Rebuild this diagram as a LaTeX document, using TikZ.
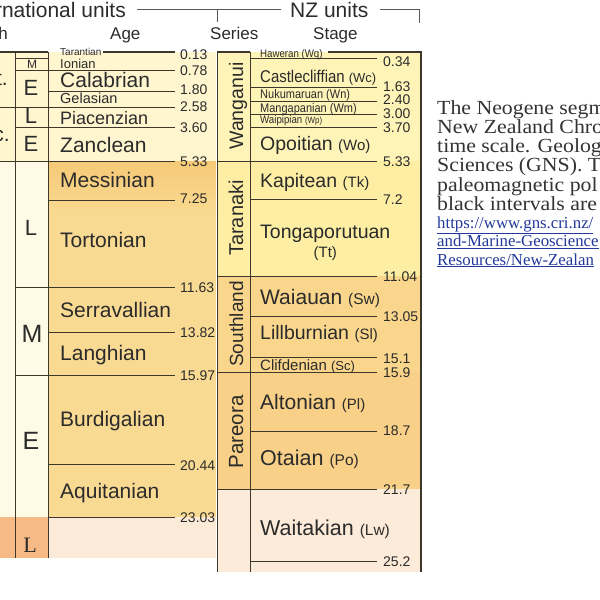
\documentclass[tikz,border=0pt]{standalone}
\usepackage{fontspec}
\setmainfont{Liberation Sans}
\newfontfamily\serifrm{Liberation Serif}
\newfontfamily\serifwide[FakeStretch=1.09]{Liberation Serif}
\newfontfamily\narrowsf[FakeStretch=0.88]{Liberation Sans}
\usetikzlibrary{positioning}
\definecolor{gpale}{HTML}{FFF6D0}
\definecolor{gcream}{HTML}{FFFAE6}
\definecolor{gmio}{HTML}{F9DA92}
\definecolor{gmiotop}{HTML}{F6C977}
\definecolor{golig}{HTML}{FCEAD8}
\definecolor{goligd}{HTML}{F6BA87}
\definecolor{gwang}{HTML}{FFF4B8}
\definecolor{gtara}{HTML}{FDEEA4}
\definecolor{gsouth}{HTML}{F9D68C}
\definecolor{gpare}{HTML}{F8D087}
\definecolor{gland}{HTML}{FCEBD9}
\definecolor{gline}{HTML}{3E372C}
\definecolor{gtext}{HTML}{2B2B2B}
\definecolor{glinkc}{HTML}{23399B}
\newcommand{\gsize}[1]{\fontsize{#1}{#1}\selectfont}
\tikzset{
  gbnd/.style={gline, line width=0.8pt},
  gtop/.style={gline, line width=2.4pt},
  gedge/.style={gline, line width=1.8pt},
  gbrack/.style={black!65, line width=0.8pt},
  gtxt/.style={inner sep=0pt, text=gtext},
  ghead/.style={gtxt, anchor=base west, font=\gsize{17}},
  gnum/.style={gtxt, anchor=west, font=\gsize{14}},
  gage/.style={gtxt, anchor=base west},
  gsub/.style={gtxt, font=\gsize{22}},
  gser/.style={gtxt, anchor=base, rotate=90, font=\gsize{20}},
  gnote/.style={inner sep=0pt, anchor=base west, text=black!80, font=\serifwide\gsize{20}},
  glink/.style={inner sep=0pt, anchor=base west, text=glinkc, font=\serifrm\gsize{16.8}},
}

\begin{document}
\begin{tikzpicture}[x=1pt,y=-1pt]
  \useasboundingbox (0,0) rectangle (600,600);
  \clip (0,0) rectangle (600,600);

  % fills, international side
  \fill[gpale] (0,52) rectangle (216,161);
  \fill[gcream] (0,161) rectangle (48,517);
  \fill[gmio] (48,161) rectangle (216,517);
  \shade[top color=gmiotop, bottom color=gmio] (48,161) rectangle (216,215);
  \fill[goligd] (0,517) rectangle (48,558);
  \fill[golig] (48,517) rectangle (216,558);

  % fills, NZ side
  \foreach \a/\b/\c in {52/161/gwang, 161/276/gtara, 276/372/gsouth,
                        372/489/gpare, 489/572/gland}
    \fill[\c] (217,\a) rectangle (421,\b);

  % header
  \node[gtxt, anchor=base east, font=\gsize{21}] (intl) at (126,17) {rnational units};
  \node[gtxt, anchor=base west, font=\gsize{21}] (nzu) at (290,17) {NZ units};
  \draw[gbrack] ([xshift=11pt]intl.east) -- ([xshift=-9pt]nzu.west);
  \draw[gbrack] (217,10) -- (217,22);
  \draw[gbrack] ([xshift=11pt]nzu.east) -| (419,23);
  \node[ghead, anchor=base east] (hep) at (8,39) {h};
  \node[ghead] (hage) at (110,39) {Age};
  \node[ghead] (hser) at (210,39) {Series};
  \node[ghead] (hstg) at (313,39) {Stage};

  % international boundaries
  \draw[gtop] (0,52) -- (48,52) (103,52) -- (175,52);
  \draw[gbnd] (15,58) -- (48,58);
  \foreach \y/\x in {70/15, 91/48, 107/0, 127/15, 161/0, 200/48,
                     287/15, 332/48, 375/15, 464/48, 517/48}
    \draw[gbnd] (\x,\y) -- (175,\y);
  \draw[gbnd] (15,52) -- (15,558) (48,52) -- (48,558);

  % international ages
  \foreach \y/\t [count=\i] in {55/0.13, 71/0.78, 90/1.80, 107/2.58, 128/3.60,
                                162/5.33, 199/7.25, 288/11.63, 333/13.82,
                                376/15.97, 466/20.44, 518/23.03}
    \node[gnum] (ia\i) at (180,\y) {\t};

  % international stages
  \foreach \y/\s/\t [count=\i] in {55/10/Tarantian, 68/13/Ionian, 87/21/Calabrian,
                                   103/14.5/Gelasian, 124/18/Piacenzian, 152/21/Zanclean,
                                   187/21/Messinian, 247/21/Tortonian, 317/21/Serravallian,
                                   360/21/Langhian, 426/21/Burdigalian, 498/21/Aquitanian}
    \node[gage, font=\gsize{\s}] (st\i) at (60,\y) {\t};

  % sub-epochs and cut epoch names
  \foreach \p/\s/\t [count=\i] in {{32,64.5}/12/M, {31,88}/22/E, {31,116}/22/L,
                                   {31,144}/22/E, {31,228}/22/L, {32,334}/25/M,
                                   {31,441}/25/E}
    \node[gsub, font=\gsize{\s}] (se\i) at (\p) {\t};
  \node[gsub, font=\serifrm\gsize{22}] (se8) at (30,545) {L};
  \node[gage, font=\gsize{21}, anchor=base east] (ep1) at (8,85) {t.};
  \node[gage, font=\gsize{21}, anchor=base east] (ep2) at (10,141) {c.};

  % NZ boundaries
  \draw[gtop] (217,52) -- (250,52) (328,52) -- (421,52);
  \foreach \y/\x/\n/\t [count=\i] in {58/250/62/0.34, 87/250/87/1.63, 101/250/100/2.40,
                                      114/250/114/3.00, 127/250/128/3.70, 161/217/162/5.33,
                                      199/250/200/7.2, 276/217/277/11.04, 316/250/317/13.05,
                                      357/250/359/15.1, 372/217/373/15.9, 431/250/431/18.7,
                                      489/217/490/21.7, 561/250/562/25.2}
  {
    \draw[gbnd] (\x,\y) -- (377,\y);
    \node[gnum] (na\i) at (383,\n) {\t};
  }
  \draw[gbnd] (217,52) -- (217,572) (250,52) -- (250,572);
  \draw[gedge] (421,51) -- (421,572);

  % NZ series
  \foreach \y/\s/\t [count=\i] in {106/19.5/Wanganui, 218/20/Taranaki,
                                   324/19/Southland, 432/20.5/Pareora}
    \node[gser, font=\gsize{\s}] (ser\i) at (243,\y) {\t};

  % NZ stages
  \node[gage, font=\narrowsf\gsize{11}] (ns1) at (260,57) {Haweran (Wq)};
  \node[gage] (ns2) at (260,82) {\narrowsf\gsize{17}Castlecliffian \normalfont\gsize{13}(Wc)};
  \node[gage, font=\narrowsf\gsize{12.5}] (ns3) at (260,98) {Nukumaruan (Wn)};
  \node[gage, font=\narrowsf\gsize{12.5}] (ns4) at (260,112) {Mangapanian (Wm)};
  \node[gage, font=\narrowsf] (ns5) at (260,123) {\gsize{11}Waipipian \gsize{9}(Wp)};
  \node[gage] (ns6) at (260,150) {\gsize{19.5}Opoitian \gsize{15}(Wo)};
  \node[gage] (ns7) at (260,187) {\gsize{19.5}Kapitean \gsize{15}(Tk)};
  \node[gage, font=\gsize{19.5}] (ns8) at (260,238) {Tongaporutuan};
  \node[gtxt, font=\gsize{15}, below=4pt of ns8] (ns8b) {(Tt)};
  \node[gage] (ns9) at (260,304) {\gsize{21}Waiauan \gsize{15.5}(Sw)};
  \node[gage] (ns10) at (260,339) {\gsize{19.5}Lillburnian \gsize{15}(Sl)};
  \node[gage] (ns11) at (260,370) {\gsize{15}Clifdenian \gsize{13}(Sc)};
  \node[gage] (ns12) at (260,409) {\gsize{21}Altonian \gsize{15}(Pl)};
  \node[gage] (ns13) at (260,465) {\gsize{21.5}Otaian \gsize{15.5}(Po)};
  \node[gage] (ns14) at (260,535) {\gsize{21.5}Waitakian \gsize{15.5}(Lw)};

  % caption, cut at the right edge
  \foreach \y/\t [count=\i] in {114/The Neogene segm, 133.3/New Zealand Chro,
                                152.6/time scale. Geolog, 171.9/Sciences (GNS). T,
                                191.2/paleomagnetic pol, 210.5/black intervals are}
    \node[gnote] (cap\i) at (437,\y) {\t};
  \node[glink] (url1) at (437,228) {\underline{https://www.gns.cri.nz/}};
  \node[glink] (url2) at (437,246.5) {\underline{and-Marine-Geoscience}};
  \node[glink] (url3) at (437,265) {\underline{Resources/New-Zealan}};

\end{tikzpicture}
\end{document}
